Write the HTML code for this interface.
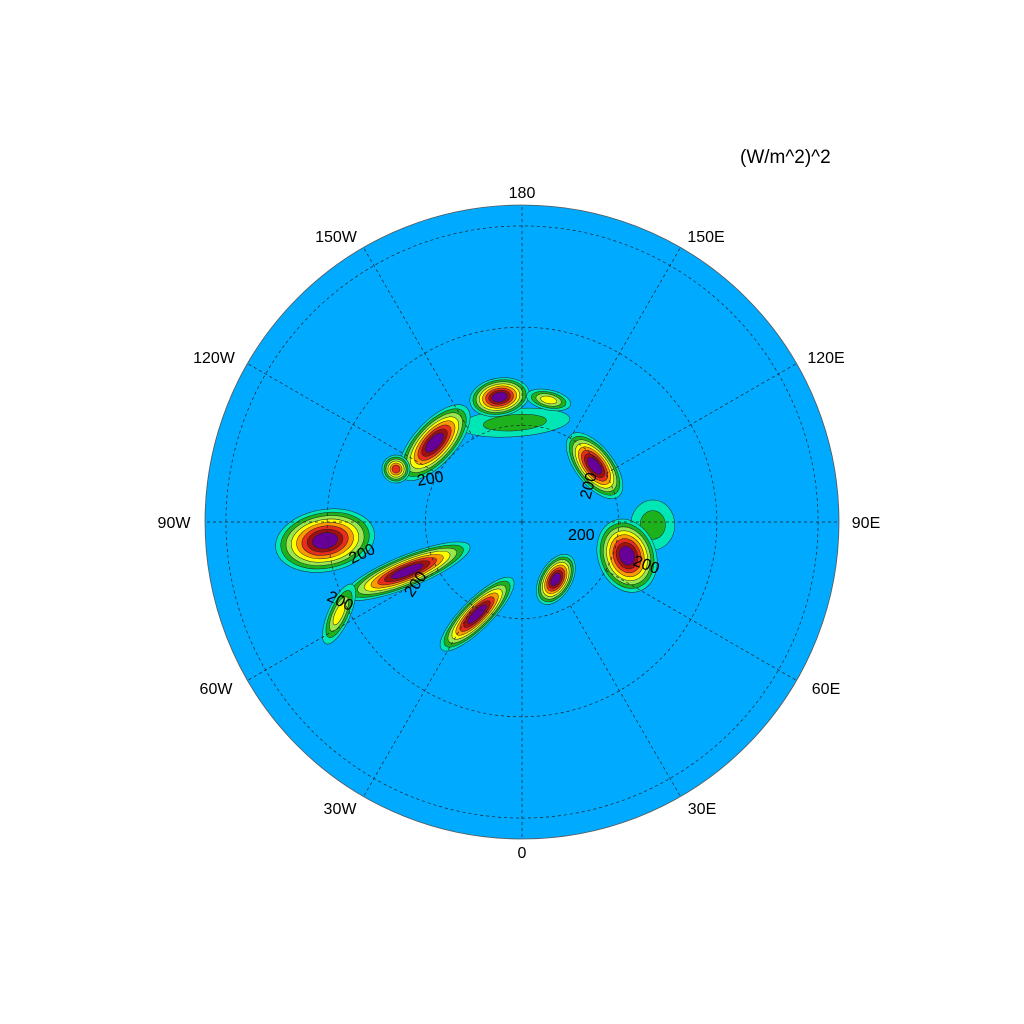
<!DOCTYPE html>
<html><head><meta charset="utf-8"><style>
html,body{margin:0;padding:0;background:#fff;}
svg{display:block;font-family:"Liberation Sans",sans-serif;}
</style></head><body>
<svg id="map" width="1024" height="1024" viewBox="0 0 1024 1024">
<circle cx="522" cy="522" r="317" fill="#00AAFF" stroke="#555" stroke-width="0.8"/>
<g id="blobs"></g>
<g id="grid"></g>
<g id="labels"></g>
<text x="740" y="163" font-size="19">(W/m^2)^2</text>
<text x="418" y="486" font-size="16" transform="rotate(-10 418 486)">200</text>
<text x="568" y="540" font-size="16">200</text>
<text x="352" y="564" font-size="16" transform="rotate(-25 352 564)">200</text>
<text x="326" y="600" font-size="16" transform="rotate(25 326 600)">200</text>
<text x="412" y="598" font-size="16" transform="rotate(-55 412 598)">200</text>
<text x="632" y="565" font-size="16" transform="rotate(20 632 565)">200</text>
<text x="590" y="500" font-size="16" transform="rotate(-75 590 500)">200</text>
</svg>
<script>
const blobLon = [-175.9, -169.8, 167.7, -132.2, -112.8, 127.8, 88.7, 72.2, 30.5, -26, -66.8, -84.6, -63.3];
const blobLat = [79.7, 76.9, 77.1, 77.8, 75.9, 80.5, 76.5, 78.6, 83.1, 79.4, 77.1, 69.7, 69.0];
const blobLen = [110, 60, 45, 95, 28, 78, 50, 75, 55, 100, 135, 100, 65];
const blobWid = [28, 38, 20, 42, 28, 38, 44, 58, 32, 30, 32, 62, 22];
const blobRot = [0, 0, 0, 0, 0, 0, 0, 70, 120, -45, -22, -10, -66];
const blobPeak = [1, 7, 3, 7, 5, 7, 1, 7, 7, 7, 7, 7, 3];
const lonLabels = ['0','30E','60E','90E','120E','150E','180','150W','120W','90W','60W','30W'];
const latCircles = [80, 70, 60];

const NS = 'http://www.w3.org/2000/svg';
const cx = 522, cy = 522, K = 1105;
const colors = ['#00E6B4','#1DB21D','#99E64D','#FFFF00','#FF9900','#E62E1A','#A01010','#660099'];
const labelX = [522, 702, 826, 866, 826, 706, 522, 336, 214, 174, 216, 340];
const labelY = [852, 808, 688, 522, 357, 236, 192, 236, 357, 522, 688, 808];
function radius(lat){ return K*Math.tan((90-lat)/2*Math.PI/180); }
function px(lon, lat){ const r = radius(lat), a = lon*Math.PI/180; return [cx + r*Math.sin(a), cy + r*Math.cos(a)]; }

const gB = document.getElementById('blobs');
for (let i = 0; i < blobLon.length; i++) {
  const [x, y] = px(blobLon[i], blobLat[i]);
  const ang = (blobRot[i] !== 0 ? blobRot[i] : -blobLon[i]);
  const peak = blobPeak[i];
  for (let k = 0; k <= peak; k++) {
    const s = 1 - k/(peak+1)*0.85;
    const e = document.createElementNS(NS, 'ellipse');
    
    
    e.setAttribute('cx', x); e.setAttribute('cy', y);
    e.setAttribute('rx', blobLen[i]/2*s); e.setAttribute('ry', blobWid[i]/2*s);
    e.setAttribute('transform', `rotate(${ang} ${x} ${y})`);
    e.setAttribute('fill', colors[k]);
    e.setAttribute('stroke', '#222'); e.setAttribute('stroke-width', '0.5');
    gB.appendChild(e);
  }
}

const gG = document.getElementById('grid');
for (const lat of latCircles) {
  const c = document.createElementNS(NS, 'circle');
  
  
  c.setAttribute('cx', cx); c.setAttribute('cy', cy); c.setAttribute('r', radius(lat));
  c.setAttribute('fill', 'none'); c.setAttribute('stroke', '#222'); c.setAttribute('stroke-width', '0.7');
  c.setAttribute('stroke-dasharray', '3,3');
  gG.appendChild(c);
}
for (let i = 0; i < 12; i++) {
  const lon = i*30;
  const inner = (i % 3 === 0) ? 0 : radius(80);
  const a = lon*Math.PI/180;
  const l = document.createElementNS(NS, 'line');
  
  
  l.setAttribute('x1', cx + inner*Math.sin(a)); l.setAttribute('y1', cy + inner*Math.cos(a));
  l.setAttribute('x2', cx + 317*Math.sin(a)); l.setAttribute('y2', cy + 317*Math.cos(a));
  l.setAttribute('stroke', '#222'); l.setAttribute('stroke-width', '0.7'); l.setAttribute('stroke-dasharray', '3,3');
  gG.appendChild(l);
}
const gL = document.getElementById('labels');
for (let i = 0; i < 12; i++) {
  const t = document.createElementNS(NS, 'text');
  
  
  t.setAttribute('x', labelX[i]); t.setAttribute('y', labelY[i] + 6);
  t.setAttribute('text-anchor', 'middle'); t.setAttribute('font-size', '16');
  t.textContent = lonLabels[i];
  gL.appendChild(t);
}
</script>
</body></html>
